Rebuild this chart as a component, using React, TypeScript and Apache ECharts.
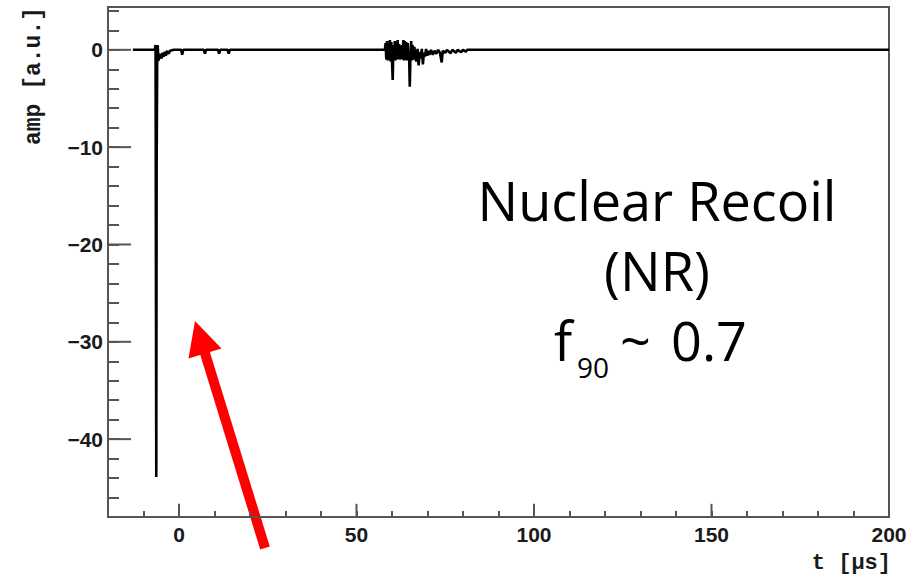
import React, { useEffect, useRef } from "react";
import * as echarts from "echarts";

// Waveform samples: time [µs] and amplitude [a.u.]
const timeUs: number[] = [
  -13, -6.8, -6.6, -6.4, -6.3, -6.15, -6.0, -5.8, -5.5, -5.2, -4.9, -4.6, -4.3, -4.0, -3.7, -3.4, -3.0, -2.5, -1.5,
  0.6, 0.9, 1.2, 7.0, 7.3, 7.6, 11.0, 11.3, 11.6, 13.7, 14.0, 14.3,
  58.0, 58.2, 58.4, 58.6, 58.8, 59.0, 59.2, 59.4, 59.6, 59.8, 60.0, 60.2, 60.4, 60.6, 60.8, 61.0, 61.2, 61.4, 61.6, 61.8,
  62.0, 62.2, 62.4, 62.6, 62.8, 63.0, 63.2, 63.4, 63.6, 63.8, 64.0, 64.2, 64.4, 64.6, 64.8, 65.0, 65.2, 65.4, 65.6, 65.8,
  66.0, 66.3, 66.6, 66.9, 67.2, 67.5, 67.8, 68.1, 68.4, 68.7, 69.0, 69.3, 69.6, 69.9, 70.2, 70.5, 71.0, 71.5, 72.0, 72.5,
  73.0, 73.5, 74.0, 74.3, 75.0, 75.5, 76.5, 77.0, 78.0, 78.5, 79.5, 80.0, 80.8, 81.2, 200,
];
const ampAU: number[] = [
  0, 0, 0.5, -43.9, -12, -1.5, 0.5, -1.1, -0.8, -0.4, -0.9, -0.3, -0.7, -0.2, -0.6, -0.1, -0.4, -0.1, 0,
  0, -0.5, 0, 0, -0.4, 0, 0, -0.4, 0, 0, -0.4, 0,
  0, 0.7, -1.0, 0.9, -1.1, 0.6, -1.0, 1.0, -1.2, 0.8, -1.1, -3.1, 0.5, -1.0, 0.9, -1.1, 0.4, -0.9, 1.0, -1.0,
  0.6, -1.0, 0.3, -0.9, 0.5, -1.0, 1.0, -1.1, 0.9, -1.0, 0.8, -1.1, 0.7, -0.9, -0.2, -3.8, -0.6, 0.9, -1.1, 0.5,
  -1.0, 0.3, -0.9, -1.2, 0.1, -1.6, -0.2, -0.9, 0.1, -1.5, -0.3, -0.7, 0.1, -0.6, -0.1, -0.5, 0.0, -0.5, -0.1, -0.4,
  0, -0.3, -1.3, -0.1, -0.3, 0, -0.35, 0, -0.3, 0, -0.25, 0, -0.2, 0, 0,
];

const xMajorTicks: number[] = [0, 50, 100, 150, 200];
const yMajorTicks: number[] = [-40, -30, -20, -10, 0];

const AXIS_COLOR = "#555";
const LABEL_COLOR = "#1a1a1a";
const X_MIN = -20;
const X_MAX = 200;
const Y_MIN = -48;
const Y_MAX = 4.4;
// major tick lengths, in data units of the perpendicular axis
const X_MAJOR_TICK_LEN = 1.35; // amp units
const Y_MAJOR_TICK_LEN = 6.5; // µs

export default function App() {
  const ref = useRef<HTMLDivElement>(null);
  useEffect(() => {
    if (!ref.current) return;
    const chart = echarts.init(ref.current, undefined, { renderer: "svg" });
    const data = timeUs.map((t, i) => [t, ampAU[i]]);
    const tickLine = { color: AXIS_COLOR, width: 2 };
    const axisLineStyle = { color: AXIS_COLOR, width: 2 };
    const labelFont = {
      fontFamily: "'Liberation Sans', Arial, sans-serif",
      fontWeight: "bold" as const,
      fontSize: 21,
      color: LABEL_COLOR,
    };
    const nameFont = "bold 22px 'Liberation Mono', 'DejaVu Sans Mono', monospace";
    const bigFont = "54px 'Open Sans', Lato, sans-serif";

    // Major ticks as separate two-point line series, drawn through the axes' scales
    const xTickSeries = xMajorTicks.map((v) => ({
      type: "line",
      xAxisIndex: 0,
      yAxisIndex: 0,
      data: [[v, Y_MIN], [v, Y_MIN + X_MAJOR_TICK_LEN]],
      showSymbol: false,
      symbol: "none",
      clip: false,
      silent: true,
      lineStyle: { color: AXIS_COLOR, width: 2 },
      z: 4,
    }));
    const yTickSeries = yMajorTicks.map((v) => ({
      type: "line",
      xAxisIndex: 0,
      yAxisIndex: 0,
      data: [[X_MIN, v], [X_MIN + Y_MAJOR_TICK_LEN, v]],
      showSymbol: false,
      symbol: "none",
      clip: false,
      silent: true,
      lineStyle: { color: AXIS_COLOR, width: 2 },
      z: 4,
    }));

    chart.setOption({
      animation: false,
      backgroundColor: "#fff",
      grid: {
        left: 108,
        top: 7,
        right: 34,
        bottom: 60,
        show: true,
        borderColor: AXIS_COLOR,
        borderWidth: 2,
      },
      xAxis: [
        {
          type: "value",
          min: X_MIN,
          max: X_MAX,
          interval: 10,
          position: "bottom",
          axisLine: { show: true, onZero: false, lineStyle: axisLineStyle },
          axisTick: { show: true, inside: true, length: 6, lineStyle: tickLine },
          axisLabel: { show: false },
          splitLine: { show: false },
        },
        {
          type: "value",
          min: X_MIN,
          max: X_MAX,
          position: "bottom",
          axisLine: { show: false, onZero: false },
          axisTick: { show: false },
          axisLabel: { ...labelFont, margin: 7, customValues: xMajorTicks },
          splitLine: { show: false },
        },
      ],
      yAxis: [
        {
          type: "value",
          min: Y_MIN,
          max: Y_MAX,
          interval: 2,
          position: "left",
          axisLine: { show: true, onZero: false, lineStyle: axisLineStyle },
          axisTick: { show: true, inside: true, length: 11, lineStyle: tickLine },
          axisLabel: { show: false },
          splitLine: { show: false },
        },
        {
          type: "value",
          min: Y_MIN,
          max: Y_MAX,
          position: "left",
          axisLine: { show: false, onZero: false },
          axisTick: { show: false },
          axisLabel: {
            ...labelFont,
            margin: 5,
            customValues: yMajorTicks,
            formatter: (v: number) => String(v).replace("-", "\u2212"),
          },
          splitLine: { show: false },
        },
      ],
      series: [
        {
          type: "line",
          xAxisIndex: 0,
          yAxisIndex: 0,
          data,
          showSymbol: false,
          symbol: "none",
          lineStyle: { color: "#000", width: 2.6 },
          z: 3,
        },
        ...xTickSeries,
        ...yTickSeries,
      ],
      graphic: [
        {
          type: "text",
          x: 34,
          y: 76,
          rotation: Math.PI / 2,
          style: { text: "amp [a.u.]", font: "bold 23px 'Liberation Mono', 'DejaVu Sans Mono', monospace", fill: LABEL_COLOR, textAlign: "center", textVerticalAlign: "middle" },
        },
        {
          type: "text",
          x: 891,
          y: 563,
          style: { text: "t [\u00b5s]", font: nameFont, fill: LABEL_COLOR, textAlign: "right", textVerticalAlign: "middle" },
        },
        {
          type: "text",
          x: 657,
          y: 200,
          style: { text: "Nuclear Recoil", font: bigFont, fill: "#000", textAlign: "center", textVerticalAlign: "middle" },
        },
        {
          type: "text",
          x: 657,
          y: 270,
          style: { text: "(NR)", font: bigFont, fill: "#000", textAlign: "center", textVerticalAlign: "middle" },
        },
        {
          type: "text",
          x: 554,
          y: 340,
          style: { text: "f", font: bigFont, fill: "#000", textAlign: "left", textVerticalAlign: "middle" },
        },
        {
          type: "text",
          x: 577,
          y: 367,
          style: { text: "90", font: "28px 'Open Sans', Lato, sans-serif", fill: "#000", textAlign: "left", textVerticalAlign: "middle" },
        },
        {
          type: "text",
          x: 620,
          y: 340,
          style: { text: "~", font: bigFont, fill: "#000", textAlign: "left", textVerticalAlign: "middle" },
        },
        {
          type: "text",
          x: 671,
          y: 340,
          style: { text: "0.7", font: bigFont, fill: "#000", textAlign: "left", textVerticalAlign: "middle" },
        },
        {
          type: "line",
          shape: { x1: 265, y1: 548, x2: 204, y2: 350 },
          style: { stroke: "#ff0000", lineWidth: 10, lineCap: "butt" },
        },
        {
          type: "polygon",
          shape: { points: [[195, 321], [188.5, 358.5], [221.5, 348.5]] },
          style: { fill: "#ff0000" },
        },
      ],
    });

    return () => chart.dispose();
  }, []);
  return <div ref={ref} style={{ width: 923, height: 577, position: "absolute", left: 0, top: 0 }} />;
}
